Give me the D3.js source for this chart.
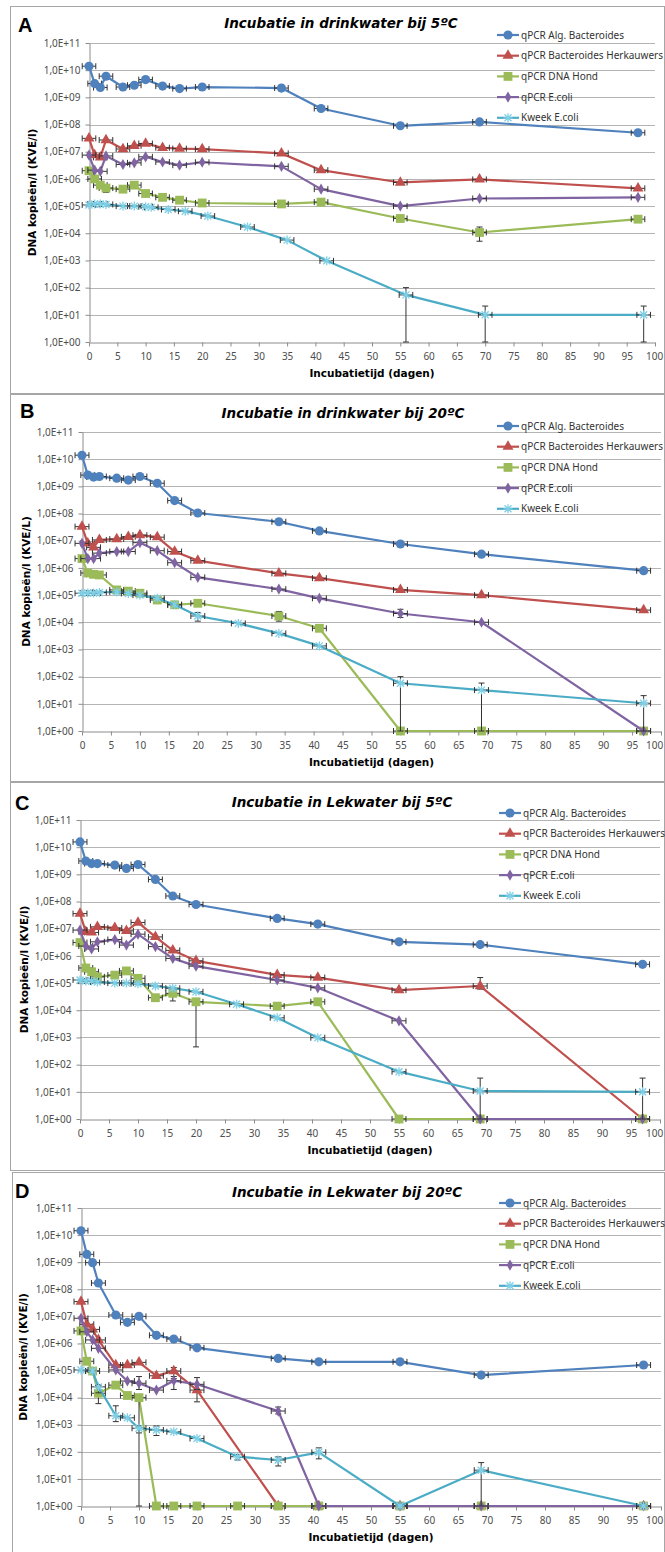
<!DOCTYPE html>
<html>
<head>
<meta charset="utf-8">
<script src="https://cdn.jsdelivr.net/npm/d3@7"></script>
<style>
  html, body { margin: 0; padding: 0; background: #fff; }
  svg { display: block; }
</style>
</head>
<body>
<svg id="chart" width="665" height="1552"></svg>
<script>
// series names (panel D has a typo in the original legend)
const seriesNames = ['qPCR Alg. Bacteroides', 'qPCR Bacteroides Herkauwers', 'qPCR DNA Hond', 'qPCR E.coli', 'Kweek E.coli'];
const seriesNamesD = ['qPCR Alg. Bacteroides', 'pPCR Bacteroides Herkauwers', 'qPCR DNA Hond', 'qPCR E.coli', 'Kweek E.coli'];

const xTicks = [0, 5, 10, 15, 20, 25, 30, 35, 40, 45, 50, 55, 60, 65, 70, 75, 80, 85, 90, 95, 100];
const yTicks = [1e0, 1e1, 1e2, 1e3, 1e4, 1e5, 1e6, 1e7, 1e8, 1e9, 1e10, 1e11];
const xErr = 1.2; // horizontal error (days)

// sampling days
const days = [0, 1, 2, 3, 6, 8, 10, 13, 16, 20, 34, 41, 55, 69, 97];

// A: drinkwater 5ºC
const algA = [1.4e10, 3.2e9, 2.3e9, 6e9, 2.4e9, 2.8e9, 4.5e9, 2.6e9, 2.1e9, 2.4e9, 2.2e9, 3.9e8, 9e7, 1.25e8, 5e7];
const herkA = [3.1e7, 7.5e6, 6.2e6, 2.7e7, 1.26e7, 1.65e7, 2.0e7, 1.4e7, 1.3e7, 1.25e7, 8.7e6, 2.1e6, 7.4e5, 9.6e5, 4.5e5];
const hondA = [2.0e6, 1.0e6, 5.9e5, 4.6e5, 4.2e5, 5.9e5, 2.9e5, 2.1e5, 1.65e5, 1.3e5, 1.2e5, 1.4e5, 3.5e4, 1.07e4, 3.3e4];
const ecoliA = [7.5e6, 2.1e6, 1.9e6, 7.0e6, 3.4e6, 3.9e6, 6.5e6, 4.2e6, 3.2e6, 4.1e6, 2.9e6, 4.2e5, 1.0e5, 1.9e5, 2.1e5];
const kweekDaysA = [0, 1, 2, 3, 6, 8, 10, 11, 14, 17, 21, 28, 35, 42, 56, 70, 98];
const kweekA = [1.1e5, 1.2e5, 1.2e5, 1.15e5, 1.0e5, 1.0e5, 9.5e4, 9e4, 7.5e4, 6.5e4, 4.3e4, 1.7e4, 5.6e3, 9.7e2, 54, 10, 10];
const hondErrA = [[3, 3.2e5, 5.5e5], [69, 5.1e3, 1.7e4]];
const kweekErrA = [[56, 1, 100], [70, 1, 21], [98, 1, 21]];

// B: drinkwater 20ºC
const algB = [1.4e10, 2.6e9, 2.2e9, 2.3e9, 2.0e9, 1.7e9, 2.3e9, 1.3e9, 3.0e8, 1.05e8, 5.0e7, 2.3e7, 7.6e6, 3.2e6, 7.9e5];
const herkB = [3.3e7, 8e6, 5.7e6, 1.07e7, 1.15e7, 1.4e7, 1.6e7, 1.35e7, 4.0e6, 1.85e6, 6.3e5, 4.2e5, 1.55e5, 1.0e5, 2.8e4];
const hondB = [2.2e6, 6.5e5, 5.8e5, 5.5e5, 1.55e5, 1.4e5, 1.17e5, 6.6e4, 4.4e4, 5.0e4, 1.7e4, 6.0e3, 1, 1, 1];
const ecoliB = [8e6, 2.2e6, 2.2e6, 3.5e6, 4.0e6, 4.0e6, 8.5e6, 4.3e6, 1.55e6, 4.5e5, 1.66e5, 7.6e4, 2.1e4, 1.0e4, 1];
const kweekDaysB = [0, 1, 2, 3, 6, 8, 10, 13, 16, 20, 27, 34, 41, 55, 69, 97];
const kweekB = [1.17e5, 1.2e5, 1.2e5, 1.25e5, 1.3e5, 1.15e5, 1.0e5, 7.6e4, 4.4e4, 1.7e4, 9.1e3, 3.9e3, 1.35e3, 57, 32, 10.5];
const hondErrB = [[34, 1.1e4, 2.5e4]];
const ecoliErrB = [[55, 1.5e4, 3e4]];
const kweekErrB = [[20, 1.1e4, 2.3e4], [55, 1, 100], [69, 1, 58], [97, 1, 20]];

// C: Lekwater 5ºC
const algC = [1.56e10, 3.1e9, 2.5e9, 2.5e9, 2.2e9, 1.65e9, 2.3e9, 6.5e8, 1.6e8, 7.8e7, 2.4e7, 1.48e7, 3.3e6, 2.6e6, 4.9e5];
const herkC = [3.6e7, 7.7e6, 7.3e6, 1.17e7, 1.07e7, 8.4e6, 1.7e7, 5.0e6, 1.6e6, 6.6e5, 2.0e5, 1.6e5, 5.5e4, 7.8e4, 1];
const hondC = [3.1e6, 3.6e5, 2.6e5, 1.7e5, 1.96e5, 2.8e5, 1.5e5, 2.9e4, 4.2e4, 2.05e4, 1.42e4, 2.05e4, 1, 1, 1];
const ecoliC = [8.9e6, 2.3e6, 1.8e6, 3.3e6, 4.0e6, 2.5e6, 6.3e6, 2.2e6, 8.1e5, 4.2e5, 1.3e5, 6.7e4, 4.1e3, 1, 1];
const kweekDaysC = [0, 1, 2, 3, 6, 8, 10, 13, 16, 20, 27, 34, 41, 55, 69, 97];
const kweekC = [1.3e5, 1.2e5, 1.2e5, 1.1e5, 1.0e5, 1.0e5, 9.5e4, 7.8e4, 6.5e4, 4.8e4, 1.66e4, 5.3e3, 9.8e2, 55, 10.7, 10];
const hondErrC = [[16, 2.2e4, 6e4], [20, 4.5e2, 2.5e4]];
const herkErrC = [[69, 6e4, 1.6e5]];
const kweekErrC = [[69, 1, 32], [97, 1, 32]];

// D: Lekwater 20ºC
const algD = [1.45e10, 1.95e9, 9.6e8, 1.7e8, 1.12e7, 6e6, 1.0e7, 2.0e6, 1.45e6, 6.9e5, 2.8e5, 2.1e5, 2.1e5, 6.8e4, 1.6e5];
const herkD = [3.5e7, 5.1e6, 3.3e6, 1.35e6, 1.6e5, 1.6e5, 2e5, 6.4e4, 9.6e4, 1.9e4, 1, 1, 1, 1, 1];
const hondDaysD = [0, 1, 2, 3, 6, 8, 10, 13, 16, 20, 27, 34, 41, 55, 69, 97];
const hondD = [2.9e6, 2.2e5, 9.6e4, 1.45e4, 2.9e4, 1.2e4, 1.0e4, 1, 1, 1, 1, 1, 1, 1, 1, 1];
const ecoliD = [8.5e6, 2.7e6, 1.35e6, 6.6e5, 1.05e5, 4.1e4, 3.4e4, 1.9e4, 4.2e4, 3.1e4, 3.2e3, 1, 1, 1, 1];
const kweekDaysD = [0, 2, 3, 6, 8, 10, 13, 16, 20, 27, 34, 41, 55, 69, 97];
const kweekD = [1.05e5, 9.6e4, 2.5e4, 2.15e3, 1.8e3, 7.4e2, 6.4e2, 5.5e2, 3.1e2, 66, 50, 96, 1, 21, 1];
const hondErrD = [[3, 6e3, 2.8e4], [10, 1, 1.2e4]];
const herkErrD = [[16, 5e4, 1.3e5], [20, 7e3, 3e4]];
const ecoliErrD = [[10, 2e4, 6e4], [16, 2e4, 6e4], [20, 2e4, 5.5e4], [34, 2.5e3, 4.5e3]];
const kweekErrD = [[3, 1.5e4, 3e4], [6, 1.3e3, 5e3], [10, 5e2, 9e2], [13, 4e2, 9e2], [27, 50, 80], [34, 30, 65], [41, 55, 140], [69, 1, 40]];

const colors = ['#4f81bd', '#c0504d', '#9bbb59', '#8064a2', '#4bacc6'];

const panels = [
  { letter: 'A', title: 'Incubatie in drinkwater bij 5ºC', ylab: 'DNA kopieën/l (KVE/l)', names: seriesNames,
    box: [10, 6, 664, 393], x0: 89, x1: 655, yTop: 43, yBot: 342, letterX: 18, letterY: 32,
    titleX: 341, titleY: 28, ylabX: 32, legX: 521, legY: 35,
    series: [[days, algA, []], [days, herkA, []], [days, hondA, hondErrA], [days, ecoliA, []], [kweekDaysA, kweekA, kweekErrA]] },
  { letter: 'B', title: 'Incubatie in drinkwater bij 20ºC', ylab: 'DNA kopieën/l (KVE/L)', names: seriesNames,
    box: [10, 394, 664, 781], x0: 82, x1: 661, yTop: 432, yBot: 731, letterX: 20, letterY: 418,
    titleX: 343, titleY: 418, ylabX: 26, legX: 521, legY: 426,
    series: [[days, algB, []], [days, herkB, []], [days, hondB, hondErrB], [days, ecoliB, ecoliErrB], [kweekDaysB, kweekB, kweekErrB]] },
  { letter: 'C', title: 'Incubatie in Lekwater bij 5ºC', ylab: 'DNA kopieën/l (KVE/l)', names: seriesNames,
    box: [10, 782, 664, 1170], x0: 80, x1: 660, yTop: 820, yBot: 1119, letterX: 15, letterY: 810,
    titleX: 342, titleY: 807, ylabX: 24, legX: 523, legY: 813,
    series: [[days, algC, []], [days, herkC, herkErrC], [days, hondC, hondErrC], [days, ecoliC, []], [kweekDaysC, kweekC, kweekErrC]] },
  { letter: 'D', title: 'Incubatie in Lekwater bij 20ºC', ylab: 'DNA kopieën/l (KVE/l)', names: seriesNamesD,
    box: [12, 1172, 664, 1560], x0: 81, x1: 661, yTop: 1208, yBot: 1506, letterX: 15, letterY: 1198,
    titleX: 347, titleY: 1197, ylabX: 23, legX: 523, legY: 1203,
    series: [[days, algD, []], [days, herkD, herkErrD], [hondDaysD, hondD, hondErrD], [days, ecoliD, ecoliErrD], [kweekDaysD, kweekD, kweekErrD]] }
];

const svg = d3.select('#chart');
const fmtE = d => '1,0E+' + String(Math.round(Math.log10(d))).padStart(2, '0');

function drawMarker(g, i, cx, cy) {
  const c = colors[i];
  if (i === 4) {
    g.append('path')
      .attr('d', 'M-3.5,-3.5L3.5,3.5M-3.5,3.5L3.5,-3.5M0,-4.5L0,4.5M-4.5,0L4.5,0')
      .attr('transform', `translate(${cx},${cy})`)
      .attr('stroke', '#7fd0e6').attr('stroke-width', 1.3).attr('fill', 'none');
    return;
  }
  const types = [d3.symbolCircle, d3.symbolTriangle, d3.symbolSquare, d3.symbolDiamond];
  const sizes = [66, 52, 78, 36];
  g.append('path')
    .attr('d', d3.symbol(types[i], sizes[i])())
    .attr('transform', `translate(${cx},${cy})`)
    .attr('fill', c);
}

panels.forEach(p => {
  const g = svg.append('g');
  const x = d3.scaleLinear().domain([0, 100]).range([p.x0, p.x1]);
  const y = d3.scaleLog().domain([1, 1e11]).range([p.yBot, p.yTop]);

  g.append('rect')
    .attr('x', p.box[0] + 0.5).attr('y', p.box[1] + 0.5)
    .attr('width', p.box[2] - p.box[0]).attr('height', p.box[3] - p.box[1])
    .attr('fill', '#fff').attr('stroke', '#a6a6a6');

  // gridlines
  g.append('g').selectAll('line').data(yTicks.slice(1)).join('line')
    .attr('x1', p.x0).attr('x2', p.x1)
    .attr('y1', d => Math.round(y(d)) + 0.5).attr('y2', d => Math.round(y(d)) + 0.5)
    .attr('stroke', '#b4b4b4');

  // axes
  const ya = g.append('g').attr('transform', `translate(${p.x0 + 0.5},0)`)
    .call(d3.axisLeft(y).tickValues(yTicks).tickFormat(fmtE).tickSize(4).tickSizeOuter(0).tickPadding(5));
  const xa = g.append('g').attr('transform', `translate(0,${p.yBot + 0.5})`)
    .call(d3.axisBottom(x).tickValues(xTicks).tickSize(4).tickSizeOuter(0).tickPadding(6));
  [ya, xa].forEach(a => {
    a.select('.domain').attr('stroke', '#8c8c8c');
    a.selectAll('.tick line').attr('stroke', '#8c8c8c');
    a.selectAll('.tick text').attr('fill', '#4d4d4d').attr('font-family', 'Noto Sans, sans-serif').attr('font-size', 10);
  });
  // keep the "100" label inside the page
  xa.selectAll('.tick text').filter(d => d === 100).each(function () {
    const bb = this.getBBox();
    const right = p.x1 + bb.x + bb.width;
    if (right > 663) d3.select(this).attr('dx', 663 - right);
  });

  // labels
  g.append('text').attr('x', p.letterX).attr('y', p.letterY).text(p.letter)
    .attr('font-family', 'Liberation Sans, Arial, sans-serif').attr('font-weight', 'bold').attr('font-size', 20);
  g.append('text').attr('x', p.titleX).attr('y', p.titleY).text(p.title)
    .attr('text-anchor', 'middle').attr('font-family', 'DejaVu Sans, sans-serif')
    .attr('font-weight', 'bold').attr('font-style', 'italic').attr('font-size', 13.5);
  g.append('text').attr('transform', `translate(${p.ylabX},${(p.yTop + p.yBot) / 2}) rotate(-90)`)
    .attr('text-anchor', 'middle').attr('dominant-baseline', 'central').text(p.ylab)
    .attr('font-family', 'DejaVu Sans, sans-serif').attr('font-weight', 'bold').attr('font-size', 10.5);
  g.append('text').attr('x', (p.x0 + p.x1) / 2).attr('y', p.yBot + 35).text('Incubatietijd (dagen)')
    .attr('text-anchor', 'middle').attr('font-family', 'DejaVu Sans, sans-serif')
    .attr('font-weight', 'bold').attr('font-size', 10.5);

  // series
  p.series.forEach(([dd, vals, errs], i) => {
    const pts = dd.map((d, k) => [d, vals[k]]);
    const sg = g.append('g');
    sg.append('path').datum(pts)
      .attr('d', d3.line().x(d => x(d[0])).y(d => y(d[1])))
      .attr('fill', 'none').attr('stroke', colors[i]).attr('stroke-width', 2.2).attr('stroke-linejoin', 'round');
    // horizontal error bars
    pts.forEach(([d, v]) => {
      const yy = y(v), xl = x(d - xErr), xr = x(d + xErr);
      sg.append('path').attr('d', `M${xl},${yy}H${xr}M${xl},${yy - 3}V${yy + 3}M${xr},${yy - 3}V${yy + 3}`)
        .attr('stroke', '#333').attr('stroke-width', 1).attr('fill', 'none');
    });
    // vertical error bars
    errs.forEach(([d, lo, hi]) => {
      const xx = x(d), yl = y(lo), yh = y(hi);
      sg.append('path').attr('d', `M${xx},${yl}V${yh}M${xx - 3},${yh}H${xx + 3}M${xx - 3},${yl}H${xx + 3}`)
        .attr('stroke', '#333').attr('stroke-width', 1).attr('fill', 'none');
    });
    pts.forEach(([d, v]) => drawMarker(sg, i, x(d), y(v)));
  });

  // legend
  p.names.forEach((name, i) => {
    const ly = p.legY + i * 20.7;
    g.append('line').attr('x1', p.legX - 24).attr('x2', p.legX - 2).attr('y1', ly).attr('y2', ly)
      .attr('stroke', colors[i]).attr('stroke-width', 2.2);
    drawMarker(g, i, p.legX - 13, ly);
    g.append('text').attr('x', p.legX).attr('y', ly).attr('dy', '0.35em').text(name)
      .attr('font-family', 'Noto Sans, sans-serif').attr('font-size', 10).attr('fill', '#333');
  });
});
</script>
</body>
</html>
